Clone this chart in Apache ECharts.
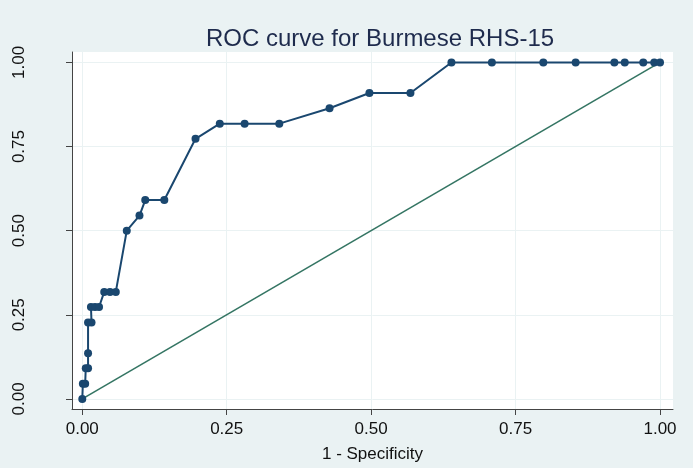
<!DOCTYPE html>
<html>
<head>
<meta charset="utf-8">
<script src="https://cdn.jsdelivr.net/npm/echarts@6/dist/echarts.min.js"></script>
<style>
html,body{margin:0;padding:0;background:#EAF2F3;}
#chart{width:693px;height:468px;}
</style>
</head>
<body>
<div id="chart"></div>
<script>
// Data
var titleText = "ROC curve for Burmese RHS-15";
var xAxisTitle = "1 - Specificity";
var tickValues = [0, 0.25, 0.5, 0.75, 1];
var fpr = [0, 0.001, 0.005, 0.006, 0.010, 0.010, 0.010, 0.016, 0.015, 0.022, 0.029, 0.038, 0.048, 0.058, 0.077, 0.099, 0.109, 0.142, 0.196, 0.238, 0.281, 0.341, 0.428, 0.497, 0.568, 0.639, 0.709, 0.798, 0.854, 0.921, 0.939, 0.971, 0.990, 1.0];
var sens = [0, 0.045, 0.045, 0.091, 0.091, 0.136, 0.227, 0.227, 0.273, 0.273, 0.273, 0.318, 0.318, 0.318, 0.5, 0.545, 0.591, 0.591, 0.773, 0.818, 0.818, 0.818, 0.864, 0.909, 0.909, 1, 1, 1, 1, 1, 1, 1, 1, 1];
var refLine = [[0, 0], [1, 1]];

var rocData = fpr.map(function (v, i) { return [v, sens[i]]; });
var font = "'Liberation Sans', Arial, sans-serif";
var fmt = function (v) { return Number(v).toFixed(2); };

var chart = echarts.init(document.getElementById('chart'), null, {renderer: 'canvas'});
chart.setOption({
  backgroundColor: '#EAF2F3',
  animation: false,
  title: {
    text: titleText, left: 201, top: 22,
    textStyle: {fontFamily: font, fontSize: 24, fontWeight: 'normal', color: '#1E2B4D'}
  },
  grid: {left: 72, right: 20, top: 52, bottom: 54, show: true, backgroundColor: '#ffffff', borderWidth: 0},
  xAxis: {
    type: 'value', min: -0.0178, max: 1.0225,
    name: xAxisTitle, nameLocation: 'middle', nameGap: 37,
    nameTextStyle: {fontFamily: font, fontSize: 17, color: '#111'},
    axisLine: {show: true, onZero: false, lineStyle: {color: '#444', width: 1}},
    axisTick: {show: true, length: 6, customValues: tickValues, lineStyle: {color: '#444'}},
    axisLabel: {customValues: tickValues, formatter: fmt, margin: 12, fontFamily: font, fontSize: 17, color: '#111'},
    splitLine: {show: true, lineStyle: {color: '#EAF2F3', width: 1}}
  },
  yAxis: {
    type: 'value', min: -0.030, max: 1.031,
    axisLine: {show: true, onZero: false, lineStyle: {color: '#444', width: 1}},
    axisTick: {show: true, length: 6, customValues: tickValues, lineStyle: {color: '#444'}},
    axisLabel: {customValues: tickValues, formatter: fmt, rotate: 90, margin: 44, fontFamily: font, fontSize: 17, color: '#111'},
    splitLine: {show: true, lineStyle: {color: '#EAF2F3', width: 1}}
  },
  series: [
    {
      type: 'line', data: refLine, showSymbol: false, symbol: 'none',
      lineStyle: {color: '#347563', width: 1.6}, z: 2
    },
    {
      type: 'line', data: rocData, symbol: 'circle', symbolSize: 8, showAllSymbol: true,
      itemStyle: {color: '#1A476F'}, lineStyle: {color: '#1A476F', width: 2}, z: 3
    }
  ]
});
</script>
</body>
</html>
